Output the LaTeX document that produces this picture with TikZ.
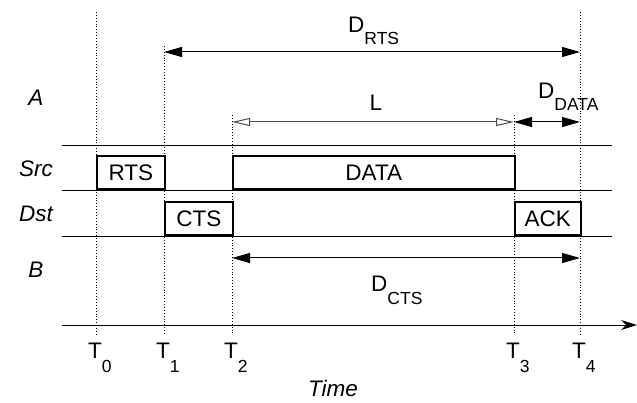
\documentclass[tikz,border=0pt]{standalone}
\usepackage{fontspec}
\setmainfont{Liberation Sans}
\usetikzlibrary{arrows.meta,positioning}

\newcommand{\bigfont}{\fontsize{22.5}{26}\selectfont}
\newcommand{\subfont}{\fontsize{17.5}{20}\selectfont}
\newcommand{\lowsub}[3]{#1\raisebox{-#3}{\subfont #2}}

\begin{document}
\begin{tikzpicture}[x=1pt, y=-1pt, font=\bigfont]

    % Define styles
    \tikzstyle{frame} = [draw, line width=1.6pt, inner sep=0pt, minimum height=33pt, anchor=south west]
    \tikzstyle{rail} = [line width=0.8pt]
    \tikzstyle{timeline} = [dotted, line width=0.9pt]
    \tikzstyle{span} = [line width=1pt, {Triangle[length=18pt,width=10pt]}-{Triangle[length=18pt,width=10pt]}]
    \tikzstyle{openspan} = [line width=1pt, black!70, {Triangle[open,length=18pt,width=8pt]}-{Triangle[open,length=18pt,width=8pt]}]
    \tikzstyle{lbl} = [inner sep=0pt, anchor=base]

    \useasboundingbox (0,0) rectangle (637,403);

    % Time instants
    \coordinate (t0top) at (96,12);   \coordinate (t0bot) at (96,335);
    \coordinate (t1top) at (164,46);  \coordinate (t1bot) at (164,335);
    \coordinate (t2top) at (232,115); \coordinate (t2bot) at (232,335);
    \coordinate (t3top) at (514,115); \coordinate (t3bot) at (514,335);
    \coordinate (t4top) at (580,12);  \coordinate (t4bot) at (580,335);

    \draw[timeline] (t0top) -- (t0bot);
    \draw[timeline] (t1top) -- (t1bot);
    \draw[timeline] (t2top) -- (t2bot);
    \draw[timeline] (t3top) -- (t3bot);
    \draw[timeline] (t4top) -- (t4bot);

    % Rails
    \coordinate (r0l) at (62,145); \coordinate (r0r) at (612,145);
    \coordinate (r1l) at (62,190); \coordinate (r1r) at (612,190);
    \coordinate (r2l) at (62,236); \coordinate (r2r) at (612,236);
    \draw[rail] (r0l) -- (r0r);
    \draw[rail] (r1l) -- (r1r);
    \draw[rail] (r2l) -- (r2r);

    % Frames
    \node[frame, minimum width=68pt] (rts) at (96,190) {RTS};
    \node[frame, minimum width=282pt] (data) at (232,190) {DATA};
    \node[frame, minimum width=68pt] (cts) at (164,236) {CTS};
    \node[frame, minimum width=66pt] (ack) at (514,236) {ACK};

    % Row labels
    \node[lbl] (nodeA) at (36,106) {\itshape A};
    \node[lbl] (src) at (36,177) {\itshape Src};
    \node[lbl] (dst) at (36,222) {\itshape Dst};
    \node[lbl] (nodeB) at (36,278) {\itshape B};

    % Durations
    \coordinate (drtsl) at (164,52);  \coordinate (drtsr) at (580,52);
    \coordinate (ll) at (232,122);    \coordinate (lr) at (514,122);
    \coordinate (ddatal) at (514,122); \coordinate (ddatar) at (580,122);
    \coordinate (dctsl) at (232,258); \coordinate (dctsr) at (580,258);

    \draw[span] (drtsl) -- (drtsr);
    \draw[openspan] (ll) -- (lr);
    \draw[span] (ddatal) -- (ddatar);
    \draw[span] (dctsl) -- (dctsr);

    \node[lbl, anchor=base west] (drts) at (348,33) {\lowsub{D}{RTS}{12pt}};
    \node[lbl] (len) at (376,111) {L};
    \node[lbl, anchor=base west] (ddata) at (538,99) {\lowsub{D}{DATA}{12pt}};
    \node[lbl, anchor=base west] (dcts) at (371,292) {\lowsub{D}{CTS}{13pt}};

    % Time axis
    \coordinate (axl) at (62,325); \coordinate (axr) at (637,325);
    \draw[rail, -{Stealth[length=16pt,width=10pt]}] (axl) -- (axr);

    \node[lbl, anchor=base west] (lt0) at (88,358) {\lowsub{T}{0}{14pt}};
    \node[lbl, anchor=base west] (lt1) at (156,358) {\lowsub{T}{1}{14pt}};
    \node[lbl, anchor=base west] (lt2) at (224,358) {\lowsub{T}{2}{14pt}};
    \node[lbl, anchor=base west] (lt3) at (506,358) {\lowsub{T}{3}{14pt}};
    \node[lbl, anchor=base west] (lt4) at (572,358) {\lowsub{T}{4}{14pt}};
    \node[lbl] (time) at (333,396) {\itshape Time};

\end{tikzpicture}
\end{document}
